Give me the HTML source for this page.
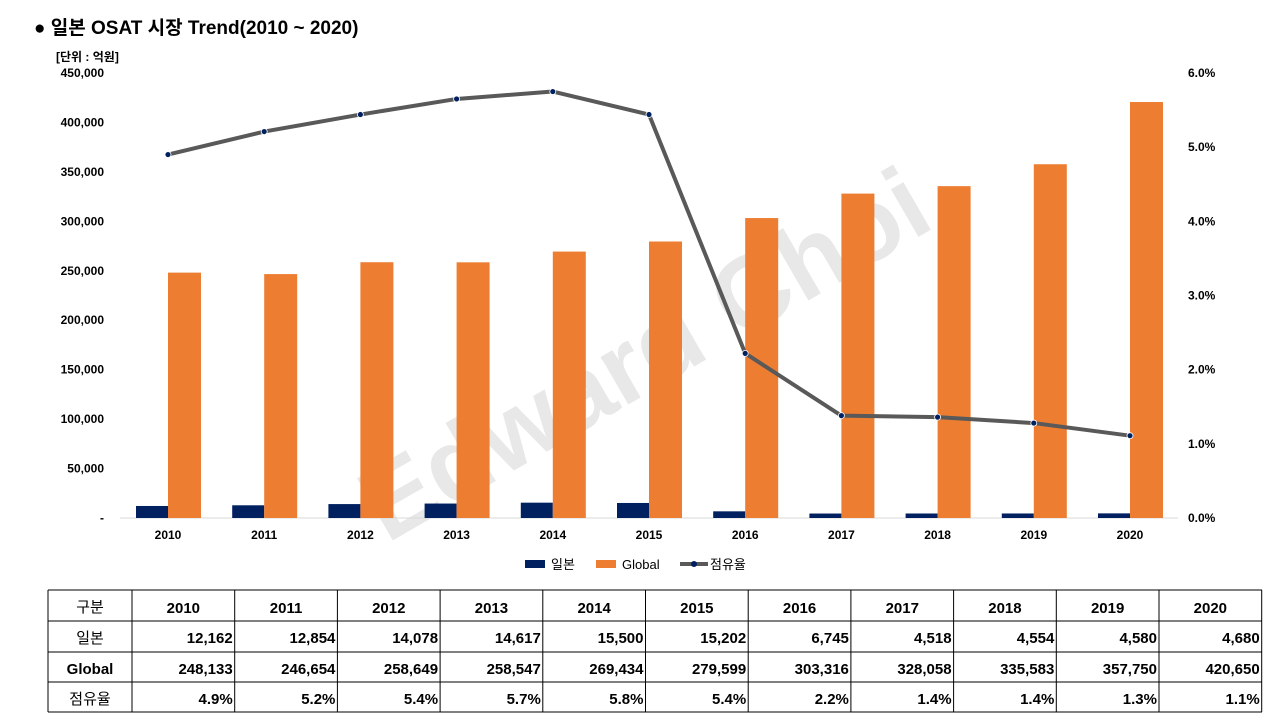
<!DOCTYPE html>
<html><head><meta charset="utf-8"><style>
body{margin:0;width:1280px;height:720px;background:#fff;overflow:hidden;font-family:"Liberation Sans","Noto Sans CJK KR",sans-serif;}
</style></head><body>
<svg id="chart" width="1280" height="720" xmlns="http://www.w3.org/2000/svg" style="font-family:'Liberation Sans','Noto Sans CJK KR',sans-serif">
<text x="34" y="34" font-size="19" font-weight="bold" fill="#000">● 일본 OSAT 시장 Trend(2010 ~ 2020)</text>
<text x="56" y="61" font-size="12" font-weight="bold" fill="#000">[단위 : 억원]</text>
<text x="662" y="385" font-size="104" font-weight="bold" fill="#d9d9d9" fill-opacity="0.6" text-anchor="middle" transform="rotate(-30 662 385)">Edward Choi</text>
<g id="plot"></g>
<g id="table"></g>
</svg>
<script>
const years=['2010','2011','2012','2013','2014','2015','2016','2017','2018','2019','2020'];
const japan=[12162,12854,14078,14617,15500,15202,6745,4518,4554,4580,4680];
const globalV=[248133,246654,258649,258547,269434,279599,303316,328058,335583,357750,420650];
const share=[4.90,5.21,5.44,5.65,5.75,5.44,2.22,1.38,1.36,1.28,1.11];
const leftTicks=[0,50000,100000,150000,200000,250000,300000,350000,400000,450000];
const rightTicks=[0,1,2,3,4,5,6];
const japanLabels=['12,162','12,854','14,078','14,617','15,500','15,202','6,745','4,518','4,554','4,580','4,680'];
const globalLabels=['248,133','246,654','258,649','258,547','269,434','279,599','303,316','328,058','335,583','357,750','420,650'];
const shareLabels=['4.9%','5.2%','5.4%','5.7%','5.8%','5.4%','2.2%','1.4%','1.4%','1.3%','1.1%'];
const NS='http://www.w3.org/2000/svg';
const y0=518,yTop=73;
const yL=v=>y0-v/450000*(y0-yTop);
const yR=v=>y0-v/6*(y0-yTop);
const xC=i=>168+i*96.2;
const plot=document.getElementById('plot');
function mk(tag,attrs,parent,text){const e=document.createElementNS(NS,tag);for(const k in attrs)e.setAttribute(k,attrs[k]);if(text!==undefined)e.textContent=text;parent.appendChild(e);return e;}
mk('line',{x1:120,x2:1178,y1:y0,y2:y0,stroke:'#d9d9d9','stroke-width':1},plot);
leftTicks.forEach(t=>{const e=mk('text',{x:104,y:yL(t)+4,'font-size':12,'font-weight':'bold','text-anchor':'end'},plot,t===0?'-':t.toLocaleString('en-US'));

});
rightTicks.forEach(t=>{const e=mk('text',{x:1188,y:yR(t)+4,'font-size':12,'font-weight':'bold'},plot,t.toFixed(1)+'%');

});
years.forEach((y,i)=>{
const b1=mk('rect',{x:xC(i)-32,y:yL(japan[i]),width:32,height:y0-yL(japan[i]),fill:'#002060'},plot);


const b2=mk('rect',{x:xC(i),y:yL(globalV[i]),width:33,height:y0-yL(globalV[i]),fill:'#ed7d31'},plot);


const t=mk('text',{x:xC(i),y:539,'font-size':12,'font-weight':'bold','text-anchor':'middle'},plot,y);


});
const pl=mk('polyline',{points:share.map((v,i)=>xC(i)+','+yR(v)).join(' '),fill:'none',stroke:'#595959','stroke-width':4,'stroke-linejoin':'round'},plot);


share.forEach((v,i)=>{const c=mk('circle',{cx:xC(i),cy:yR(v),r:3,fill:'#002060',stroke:'#fff','stroke-width':0.8},plot);

});
const lg=mk('g',{},plot);


mk('rect',{x:525,y:560,width:20,height:8,fill:'#002060'},lg);
mk('text',{x:551,y:569,'font-size':13},lg,'일본');
mk('rect',{x:596,y:560,width:20,height:8,fill:'#ed7d31'},lg);
mk('text',{x:622,y:569,'font-size':13},lg,'Global');
mk('line',{x1:680,x2:708,y1:564,y2:564,stroke:'#595959','stroke-width':4},lg);
mk('circle',{cx:694,cy:564,r:3,fill:'#002060'},lg);
mk('text',{x:710,y:569,'font-size':13},lg,'점유율');
const tb=document.getElementById('table');
const cols=[48,132];for(let i=1;i<=11;i++)cols.push(132+i*102.7);
const rows=[590,621,652,682,712];
rows.forEach(r=>mk('line',{x1:48,x2:1262,y1:r,y2:r,stroke:'#000','stroke-width':1},tb));
cols.forEach(c=>mk('line',{x1:c,x2:c,y1:590,y2:712,stroke:'#000','stroke-width':1},tb));
const heads=['구분','일본','Global','점유율'];
heads.forEach((h,r)=>{const e=mk('text',{x:90,y:rows[r]+22,'font-size':15,'font-weight':r===2?'bold':'normal','text-anchor':'middle'},tb,h);

});
years.forEach((y,i)=>{
const cx=(cols[i+1]+cols[i+2])/2;
mk('text',{x:cx,y:613,'font-size':15,'font-weight':'bold','text-anchor':'middle'},tb,y);
[japanLabels,globalLabels,shareLabels].forEach((arr,r)=>{
const e=mk('text',{x:cols[i+2]-2,y:rows[r+1]+22,'font-size':15,'font-weight':'bold','text-anchor':'end'},tb,arr[i]);

});
});
</script>
</body></html>
